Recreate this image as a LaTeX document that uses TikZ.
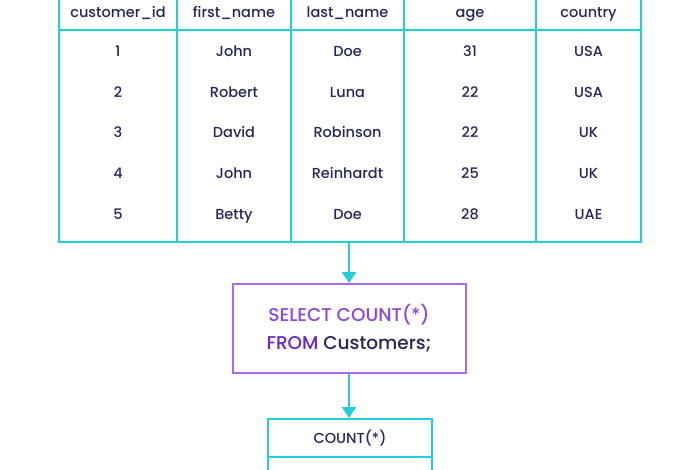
\documentclass[tikz,border=0pt]{standalone}
\usepackage{fontspec}
\setmainfont{Poppins Medium}
\usepackage{xcolor}
\usetikzlibrary{arrows.meta, positioning}
\definecolor{tabcyan}{HTML}{1FCFDC}
\definecolor{qpurple}{HTML}{A86CF0}
\definecolor{kwpurple}{HTML}{8F45E6}
\definecolor{kwdark}{HTML}{6A24D6}
\definecolor{txtnavy}{HTML}{25265E}
\tikzset{
  >={Triangle[width=14pt,length=11pt]},
  % Cornici
  tablebox/.style={draw=tabcyan,line width=2pt,minimum width=582,minimum height=250,inner sep=0},
  querybox/.style={draw=qpurple,line width=2pt,minimum width=233,minimum height=89,align=center,
    font=\fontsize{18.5}{28}\selectfont,text=txtnavy},
  resbox/.style={draw=tabcyan,line width=2pt,minimum width=164,minimum height=81,inner sep=0},
  % Testi nelle celle
  cell/.style={text=txtnavy,font=\fontsize{14.5}{17}\selectfont,inner sep=0,text height=10.2pt,text depth=0pt},
  % Linee e frecce
  grid line/.style={tabcyan,line width=2pt},
  flow arrow/.style={->,tabcyan,line width=2.5pt}
}

\begin{document}
\begin{tikzpicture}[x=1pt,y=-1pt]
        \useasboundingbox (0,0) rectangle (700,470);
        \clip (0,0) rectangle (700,470);
        % Tabella Customers
        \node[tablebox] (tbl) at (350,117) {};
        \draw[grid line] (59,30) -- (641,30);
        \draw[grid line] (177,-8) -- (177,242);
        \draw[grid line] (291,-8) -- (291,242);
        \draw[grid line] (404,-8) -- (404,242);
        \draw[grid line] (536,-8) -- (536,242);
        % Intestazioni
        \node[cell] (h1) at (118,12) {customer\_id};
        \node[cell] (h2) at (234,12) {first\_name};
        \node[cell] (h3) at (347.5,12) {last\_name};
        \node[cell] (h4) at (470,12) {age};
        \node[cell] (h5) at (588.5,12) {country};
        % Righe
        \node[cell] (r1a) at (118,51) {1};
        \node[cell] (r1b) at (234,51) {John};
        \node[cell] (r1c) at (347.5,51) {Doe};
        \node[cell] (r1d) at (470,51) {31};
        \node[cell] (r1e) at (588.5,51) {USA};
        \node[cell] (r2a) at (118,92) {2};
        \node[cell] (r2b) at (234,92) {Robert};
        \node[cell] (r2c) at (347.5,92) {Luna};
        \node[cell] (r2d) at (470,92) {22};
        \node[cell] (r2e) at (588.5,92) {USA};
        \node[cell] (r3a) at (118,132) {3};
        \node[cell] (r3b) at (234,132) {David};
        \node[cell] (r3c) at (347.5,132) {Robinson};
        \node[cell] (r3d) at (470,132) {22};
        \node[cell] (r3e) at (588.5,132) {UK};
        \node[cell] (r4a) at (118,173) {4};
        \node[cell] (r4b) at (234,173) {John};
        \node[cell] (r4c) at (347.5,173) {Reinhardt};
        \node[cell] (r4d) at (470,173) {25};
        \node[cell] (r4e) at (588.5,173) {UK};
        \node[cell] (r5a) at (118,214) {5};
        \node[cell] (r5b) at (234,214) {Betty};
        \node[cell] (r5c) at (347.5,214) {Doe};
        \node[cell] (r5d) at (470,214) {28};
        \node[cell] (r5e) at (588.5,214) {UAE};
        % Query
        \node[querybox] (query) at (349,328.5)
          {\textcolor{kwpurple}{SELECT COUNT(*)}\\\textcolor{kwdark}{FROM} Customers;};
        % Risultato
        \node[resbox] (res) at (350,459.5) {};
        \draw[grid line] (268,457) -- (432,457);
        \node[cell] (rh) at (350,438) {COUNT(*)};
        % Frecce
        \draw[flow arrow] (tbl.south -| query.north) -- (query.north);
        \draw[flow arrow] (query.south) -- (query.south |- res.north);
      \end{tikzpicture}
\end{document}
